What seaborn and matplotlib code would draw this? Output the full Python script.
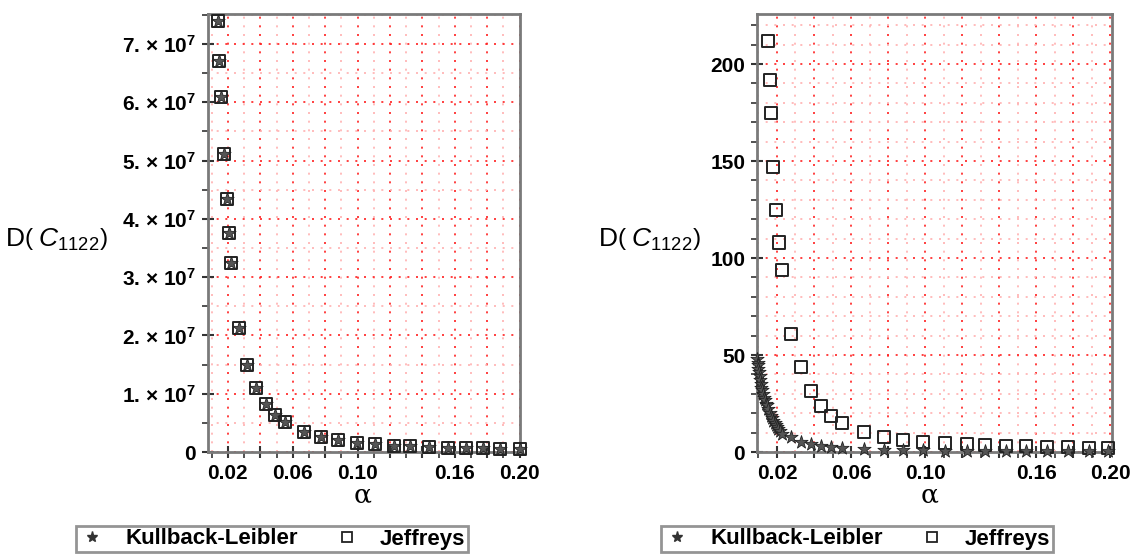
import seaborn as sns
import numpy as np
import pandas as pd
import matplotlib.pyplot as plt
from matplotlib.ticker import FixedLocator, MultipleLocator, FixedFormatter
from matplotlib.lines import Line2D

# values
alpha_left = [0.0138, 0.0144, 0.0157, 0.0175, 0.0194, 0.0206, 0.0219, 0.0268, 0.0317,
              0.0373, 0.0435, 0.049, 0.0552, 0.067, 0.0774, 0.0879, 0.0996, 0.1107,
              0.1224, 0.1323, 0.144, 0.1557, 0.1669, 0.1774, 0.1879, 0.2]
jeffreys_left = [7.39e7, 6.70e7, 6.09e7, 5.11e7, 4.34e7, 3.76e7, 3.25e7, 2.13e7, 1.50e7,
                 1.09e7, 0.82e7, 0.63e7, 0.51e7, 0.35e7, 0.25e7, 0.21e7, 0.16e7, 0.13e7,
                 0.11e7, 0.095e7, 0.085e7, 0.075e7, 0.068e7, 0.062e7, 0.057e7, 0.053e7]
kl_left = [7.39e7, 6.70e7, 6.09e7, 5.11e7, 4.34e7, 3.76e7, 3.25e7, 2.13e7, 1.50e7,
           1.09e7, 0.82e7, 0.63e7, 0.51e7, 0.35e7, 0.25e7, 0.21e7, 0.16e7, 0.13e7,
           0.11e7, 0.095e7, 0.085e7, 0.075e7, 0.068e7, 0.062e7, 0.057e7, 0.053e7]

alpha_jeff_right = [0.0151, 0.0162, 0.0168, 0.0178, 0.0195, 0.0211, 0.0227, 0.0276, 0.033,
                    0.0384, 0.0438, 0.0492, 0.0551, 0.067, 0.0778, 0.088, 0.0989, 0.111,
                    0.1227, 0.1324, 0.1438, 0.1546, 0.166, 0.1773, 0.1886, 0.199]
jeffreys_right = [212, 192, 175, 147, 125, 108, 94, 61, 44, 31.5, 23.7, 18.5, 15, 10.3,
                  7.7, 6.2, 5.2, 4.6, 4.0, 3.6, 3.2, 2.9, 2.6, 2.4, 2.2, 2.0]

alpha_kl_right = [0.0092, 0.0095, 0.0097, 0.0100, 0.0103, 0.0106, 0.0108, 0.0112, 0.0116,
                  0.0119, 0.0124, 0.0130, 0.0135, 0.0140, 0.0146, 0.0153, 0.0162, 0.0168,
                  0.0173, 0.0181, 0.0189, 0.0195, 0.0200, 0.0208, 0.0216, 0.0227, 0.0276,
                  0.033, 0.0384, 0.0438, 0.0492, 0.0551, 0.067, 0.0778, 0.088, 0.0989,
                  0.111, 0.1227, 0.1324, 0.1438, 0.1546, 0.166, 0.1773, 0.1886, 0.199]
kl_right = [48, 46, 45, 43, 41, 39, 37, 35, 33, 32, 30, 28, 27, 25, 24, 22, 20, 18.5,
            17.5, 16, 15, 14, 13, 12, 11, 9.5, 7.5, 5.2, 4.0, 3.2, 2.6, 2.1, 1.6, 1.2,
            1.0, 0.85, 0.7, 0.6, 0.55, 0.5, 0.45, 0.4, 0.36, 0.33, 0.3]

x_ticks = [0.02, 0.06, 0.10, 0.16, 0.20]
x_tick_labels = ["0.02", "0.06", "0.10", "0.16", "0.20"]
y_ticks_left = [0, 1e7, 2e7, 3e7, 4e7, 5e7, 6e7, 7e7]
y_tick_labels_left = ["0"] + [f"{k}. \u00d7 10$^{{\\mathbf{{7}}}}$" for k in range(1, 8)]
y_ticks_right = [0, 50, 100, 150, 200]
y_tick_labels_right = ["0", "50", "100", "150", "200"]

sns.set_style("white")
plt.rcParams['font.family'] = ['Liberation Sans', 'DejaVu Sans']
plt.rcParams['mathtext.fontset'] = 'custom'
plt.rcParams['mathtext.rm'] = 'Liberation Sans'
plt.rcParams['mathtext.it'] = 'Liberation Sans:italic'
plt.rcParams['mathtext.bf'] = 'Liberation Sans:bold'
plt.rcParams['text.color'] = 'black'
plt.rcParams['xtick.color'] = 'black'
plt.rcParams['ytick.color'] = 'black'

fig = plt.figure(figsize=(11.38, 5.54), dpi=100)
ax1 = fig.add_axes([208 / 1138, 1 - 452 / 554, 312 / 1138, 438 / 554])
ax2 = fig.add_axes([757 / 1138, 1 - 452 / 554, 355 / 1138, 438 / 554])

df_left_j = pd.DataFrame({'alpha': alpha_left, 'D': jeffreys_left})
df_left_k = pd.DataFrame({'alpha': alpha_left, 'D': kl_left})
df_right_j = pd.DataFrame({'alpha': alpha_jeff_right, 'D': jeffreys_right})
df_right_k = pd.DataFrame({'alpha': alpha_kl_right, 'D': kl_right})


def style_axes(ax, xlim, ylim, yticks, ylabels, ymajor, yminor):
    ax.set_xlim(*xlim)
    ax.set_ylim(*ylim)
    xmaj = np.round(np.arange(0.02, 0.2001, 0.02), 2)
    labels_x = [x_tick_labels[x_ticks.index(v)] if v in x_ticks else "" for v in xmaj]
    ax.xaxis.set_major_locator(FixedLocator(xmaj))
    ax.xaxis.set_major_formatter(FixedFormatter(labels_x))
    ax.xaxis.set_minor_locator(MultipleLocator(0.01))
    ax.yaxis.set_major_locator(FixedLocator(yticks))
    ax.yaxis.set_major_formatter(FixedFormatter(ylabels))
    ax.yaxis.set_minor_locator(MultipleLocator(yminor))
    ax.grid(which='major', color='#ff2020', linestyle=(0, (1.2, 4)), linewidth=1.2)
    ax.grid(which='minor', color='#ffb0b0', linestyle=(0, (1.2, 4)), linewidth=1.2)
    ax.set_axisbelow(True)
    ax.tick_params(which='both', bottom=True, left=True, top=False, right=False)
    ax.tick_params(which='major', direction='inout', length=9, width=1.5, color='#333',
                   labelsize=15, pad=4)
    ax.tick_params(which='minor', direction='out', length=4, width=1.2, color='#333')
    for lab in ax.get_xticklabels() + ax.get_yticklabels():
        lab.set_fontweight('bold')
    for s in ax.spines.values():
        s.set_color('#7a7a7a')
        s.set_linewidth(2)
    ax.set_xlabel("")
    ax.set_ylabel("")


for ax, dj, dk in [(ax1, df_left_j, df_left_k), (ax2, df_right_j, df_right_k)]:
    sns.scatterplot(data=dj, x='alpha', y='D', marker='s', s=75, facecolor='none',
                    edgecolor='#222222', linewidth=1.4, ax=ax, clip_on=False, zorder=3)
    sns.scatterplot(data=dk, x='alpha', y='D', marker='*', s=100, color='#555555',
                    edgecolor='#222222', linewidth=0.6, ax=ax, clip_on=False, zorder=4)

style_axes(ax1, (0.0077, 0.2002), (0, 7.514e7), y_ticks_left, y_tick_labels_left, 1e7, 0.5e7)
style_axes(ax2, (0.0092, 0.201), (0, 225.8), y_ticks_right, y_tick_labels_right, 50, 10)

ylab = r"$\mathrm{D}\left(\;C_{1122}\right)$"
fig.text(5 / 1138, 1 - 240 / 554, ylab, fontsize=19, va='center', ha='left')
fig.text(598 / 1138, 1 - 240 / 554, ylab, fontsize=19, va='center', ha='left')
fig.text(363 / 1138, 1 - 495 / 554, "\u03b1", fontsize=19, va='center', ha='center',
         family='DejaVu Serif')
fig.text(930 / 1138, 1 - 495 / 554, "\u03b1", fontsize=19, va='center', ha='center',
         family='DejaVu Serif')

handles = [Line2D([], [], linestyle='none', marker='*', markersize=8, color='#333333'),
           Line2D([], [], linestyle='none', marker='s', markersize=7, markerfacecolor='none',
                  markeredgecolor='#222222', markeredgewidth=1.3)]
names = ["Kullback-Leibler", "Jeffreys"]
for cx in [272 / 1138, 857 / 1138]:
    leg = fig.legend(handles, names, loc='center', bbox_to_anchor=(cx, 1 - 539 / 554), ncol=2,
                     frameon=True, fancybox=False, edgecolor='#7a7a7a', borderpad=0.12,
                     handletextpad=0.9, columnspacing=1.6, handlelength=1.2,
                     prop={'weight': 'bold', 'size': 16})
    leg.get_frame().set_linewidth(2)

plt.savefig("out.png", dpi=100)
